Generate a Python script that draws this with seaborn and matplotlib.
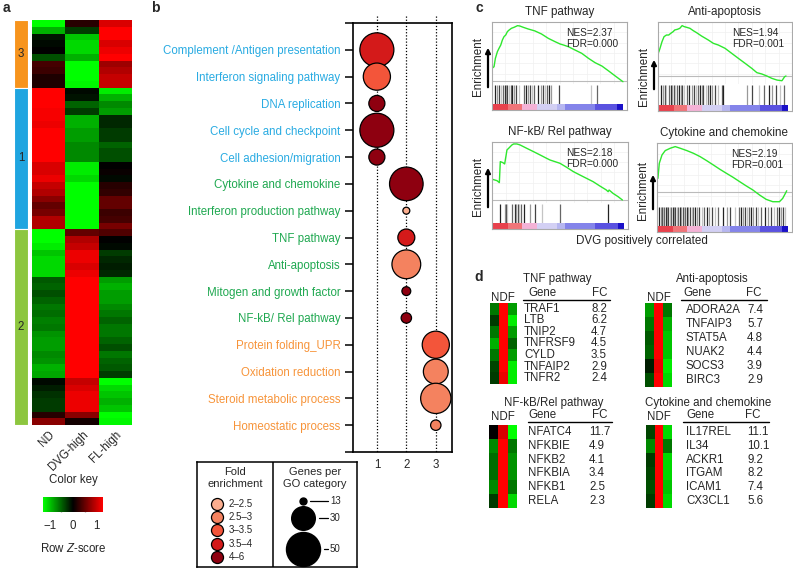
import numpy as np
import pandas as pd
import matplotlib
matplotlib.use("Agg")
import matplotlib.pyplot as plt
import seaborn as sns
from matplotlib.colors import LinearSegmentedColormap, Normalize
from matplotlib.cm import ScalarMappable

sns.set_theme(style="white")
plt.rcParams["font.family"] = ["Liberation Sans", "DejaVu Sans"]
plt.rcParams["mathtext.fontset"] = "custom"
plt.rcParams["mathtext.it"] = "Liberation Sans:italic"
plt.rcParams["mathtext.rm"] = "Liberation Sans"

# ---------------- panel a: clustered heatmap (row z-scores) ----------------
heat_cols = ["ND", "DVG-high", "FL-high"]
cluster_names = ["3", "1", "2"]
cluster_rows = [10, 21, 29]
cluster_colors = ["#f7941d", "#1fa5e0", "#8dc63f"]

nd = [-1.3, -0.9, -0.1, -0.05, 0.0, -0.4, 0.35, 0.3, 0.15, 0.15,
      1.3, 1.3, 1.3, 1.25, 1.25, 1.2, 1.3, 1.3, 1.3, 1.3, 1.3, 1.1, 1.1, 1.2, 1.0, 0.9, 0.7, 0.5, 0.6, 0.9, 0.9,
      -1.3, -1.3, -1.2, -1.0, -1.1, -1.1, -1.1, -0.45, -0.5, -0.4, -0.5, -0.6, -0.55, -0.65, -0.6,
      -0.75, -0.8, -0.8, -0.7, -0.75, -0.9, -0.85, -0.05, -0.15, -0.25, -0.3, -0.3, 0.2, 0.7]
dvg = [0.2, -0.3, -1.0, -1.1, -1.1, -0.9, -1.3, -1.3, -1.3, -1.25,
       -0.05, -0.1, -0.5, -0.3, -0.9, -0.9, -0.8, -0.8, -0.7, -0.7, -0.7, -1.2, -1.2, -1.1, -1.3, -1.3, -1.3, -1.3, -1.3, -1.3, -1.3,
       0.5, 0.9, 1.0, 1.2, 1.2, 1.1, 1.2, 1.3, 1.3, 1.3, 1.3, 1.3, 1.3, 1.3, 1.3,
       1.3, 1.3, 1.3, 1.3, 1.3, 1.3, 1.3, 1.0, 1.1, 1.2, 1.2, 1.2, 0.7, 0.1]
fl = [1.1, 1.3, 1.3, 1.1, 1.2, 1.3, 0.8, 0.9, 1.0, 1.0,
      -1.2, -0.9, -0.7, -0.8, -0.2, -0.2, -0.3, -0.3, -0.5, -0.4, -0.4, 0.0, 0.05, -0.05, 0.2, 0.25, 0.5, 0.5, 0.3, 0.35, 0.6,
      0.4, 0.0, -0.05, -0.3, -0.2, -0.15, -0.2, -0.8, -0.9, -0.8, -0.8, -0.7, -0.6, -0.5, -0.6,
      -0.6, -0.5, -0.4, -0.6, -0.5, -0.45, -0.3, -1.3, -1.1, -1.0, -0.9, -1.0, -1.3, -1.25]

# ---------------- panel b: GO enrichment bubbles ----------------
go_terms = ["Complement /Antigen presentation", "Interferon signaling pathway", "DNA replication",
            "Cell cycle and checkpoint", "Cell adhesion/migration", "Cytokine and chemokine",
            "Interferon production pathway", "TNF pathway", "Anti-apoptosis", "Mitogen and growth factor",
            "NF-kB/ Rel pathway", "Protein folding_UPR", "Oxidation reduction", "Steroid metabolic process",
            "Homeostatic process"]
go_cluster = [1, 1, 1, 1, 1, 2, 2, 2, 2, 2, 2, 3, 3, 3, 3]
fold_bins = ["2\u20132.5", "2.5\u20133", "3\u20133.5", "3.5\u20134", "4\u20136"]
fold_colors = ["#fbae8f", "#f4825f", "#f3553a", "#d41a1a", "#8e0010"]
go_fold = ["3.5\u20134", "3\u20133.5", "4\u20136", "4\u20136", "4\u20136", "4\u20136", "2\u20132.5", "3.5\u20134",
           "2.5\u20133", "4\u20136", "4\u20136", "3\u20133.5", "2.5\u20133", "2.5\u20133", "2.5\u20133"]
go_genes = [51, 36, 20, 51, 20, 49, 13, 21, 39, 14, 15, 36, 32, 42, 15]
term_colors = ["#29abe2"] * 5 + ["#1fa850"] * 6 + ["#f7943a"] * 4
legend_genes = [13, 30, 50]

# ---------------- panel c: GSEA running enrichment ----------------
tnf_x = [0, 0.015, 0.025, 0.040, 0.052, 0.065, 0.077, 0.089, 0.102, 0.114, 0.127, 0.144, 0.164, 0.189, 0.206, 0.231,
         0.268, 0.318, 0.367, 0.417, 0.467, 0.504, 0.529, 0.566, 0.615, 0.665, 0.715, 0.764, 0.814, 0.864, 0.913, 0.970]
tnf_es = [0.149, 0.168, 0.266, 0.345, 0.384, 0.423, 0.482, 0.521, 0.541, 0.580, 0.599, 0.619, 0.631, 0.650, 0.646, 0.631,
          0.611, 0.588, 0.552, 0.501, 0.462, 0.435, 0.423, 0.403, 0.364, 0.325, 0.266, 0.215, 0.176, 0.118, 0.059, -0.008]
tnf_hits = [0.025, 0.037, 0.052, 0.065, 0.082, 0.094, 0.107, 0.114, 0.124, 0.139, 0.149, 0.164, 0.181, 0.199, 0.236,
            0.251, 0.263, 0.280, 0.293, 0.310, 0.342, 0.362, 0.375, 0.392, 0.407, 0.422, 0.437, 0.499, 0.734, 0.779]

anti_x = [0.005, 0.015, 0.03, 0.045, 0.063, 0.08, 0.095, 0.113, 0.125, 0.145, 0.163, 0.18, 0.195, 0.213, 0.238, 0.263,
          0.288, 0.325, 0.375, 0.413, 0.45, 0.5, 0.55, 0.6, 0.65, 0.7, 0.738, 0.775, 0.813, 0.85, 0.888, 0.925, 0.945, 0.955]
anti_es = [0.282, 0.330, 0.409, 0.468, 0.488, 0.488, 0.508, 0.528, 0.548, 0.556, 0.568, 0.600, 0.588, 0.580, 0.568, 0.540,
           0.516, 0.476, 0.429, 0.389, 0.369, 0.330, 0.270, 0.210, 0.151, 0.091, 0.040, 0.024, 0.0, -0.028, -0.048, -0.056,
           -0.008, 0.0]
anti_hits = [0.02, 0.038, 0.05, 0.063, 0.08, 0.095, 0.105, 0.118, 0.13, 0.145, 0.155, 0.168, 0.18, 0.195, 0.213, 0.233,
             0.25, 0.268, 0.28, 0.3, 0.313, 0.325, 0.338, 0.355, 0.37, 0.388, 0.405, 0.425, 0.445, 0.475, 0.488, 0.663,
             0.7, 0.755, 0.788, 0.825, 0.85, 0.88, 0.913, 0.938]

nfkb_x = [0.005, 0.037, 0.054, 0.061, 0.080, 0.093, 0.102, 0.110, 0.122, 0.134, 0.146, 0.159, 0.183, 0.207, 0.256, 0.305,
          0.354, 0.402, 0.427, 0.5, 0.549, 0.598, 0.646, 0.695, 0.744, 0.793, 0.841, 0.854, 0.861, 0.890, 0.927, 0.959]
nfkb_es = [0.221, 0.207, 0.186, 0.411, 0.400, 0.386, 0.464, 0.536, 0.553, 0.571, 0.589, 0.600, 0.600, 0.589, 0.553, 0.518,
           0.482, 0.446, 0.428, 0.393, 0.350, 0.304, 0.268, 0.232, 0.196, 0.150, 0.107, 0.089, 0.107, 0.071, 0.036, 0.0]
nfkb_hits = [0.056, 0.093, 0.102, 0.110, 0.146, 0.166, 0.178, 0.188, 0.202, 0.215, 0.232, 0.280, 0.317, 0.366, 0.5, 0.854]

cyto_x = [0.007, 0.017, 0.037, 0.061, 0.098, 0.135, 0.172, 0.221, 0.270, 0.319, 0.368, 0.417, 0.466, 0.515, 0.564, 0.613,
          0.662, 0.711, 0.760, 0.809, 0.858, 0.907, 0.931, 0.951, 0.961]
cyto_es = [0.178, 0.378, 0.489, 0.547, 0.578, 0.600, 0.578, 0.547, 0.511, 0.467, 0.413, 0.356, 0.298, 0.244, 0.191, 0.133,
           0.076, 0.022, -0.044, -0.102, -0.133, -0.133, -0.089, -0.022, 0.013]
cyto_hits = [0.017, 0.027, 0.037, 0.044, 0.054, 0.064, 0.074, 0.083, 0.093, 0.105, 0.115, 0.125, 0.135, 0.147, 0.159,
             0.172, 0.181, 0.191, 0.201, 0.211, 0.221, 0.233, 0.245, 0.257, 0.270, 0.284, 0.299, 0.314, 0.331, 0.348,
             0.368, 0.387, 0.404, 0.429, 0.453, 0.490, 0.515, 0.544, 0.576, 0.608, 0.625, 0.637, 0.652, 0.667, 0.681,
             0.699, 0.711, 0.730, 0.748, 0.772, 0.797, 0.821, 0.846, 0.870, 0.887, 0.902, 0.919, 0.936, 0.951]

rank_edges = [0, 0.12, 0.22, 0.33, 0.48, 0.54, 0.76, 0.925, 0.97]
rank_colors = ["#e8414c", "#f07478", "#f4b2d6", "#d3d0f4", "#b6b6f0", "#8484ea", "#5a52e0", "#1a10c8"]

# ---------------- panel d: top genes ----------------
tnf_genes = ["TRAF1", "LTB", "TNIP2", "TNFRSF9", "CYLD", "TNFAIP2", "TNFR2"]
tnf_fc = [8.2, 6.2, 4.7, 4.5, 3.5, 2.9, 2.4]
tnf_z = [[-0.6, 1.3, -0.8], [-0.3, 1.3, -1.2], [-0.6, 1.3, -0.8], [-0.9, 1.3, -0.5],
         [-0.6, 1.3, -0.8], [-0.35, 1.3, -1.2], [-0.3, 1.2, -1.2]]
anti_genes = ["ADORA2A", "TNFAIP3", "STAT5A", "NUAK2", "SOCS3", "BIRC3"]
anti_fc = [7.4, 5.7, 4.8, 4.4, 3.9, 2.9]
anti_z = [[-0.8, 1.3, -0.6], [-0.6, 1.3, -0.9], [-0.45, 1.3, -1.0], [-0.5, 1.3, -1.0],
          [-0.15, 1.2, -1.2], [-0.4, 1.3, -1.1]]
nfkb_genes = ["NFATC4", "NFKBIE", "NFKB2", "NFKBIA", "NFKB1", "RELA"]
nfkb_fc = [11.7, 4.9, 4.1, 3.4, 2.5, 2.3]
nfkb_z = [[0.0, 1.1, -1.3], [-0.7, 1.3, -0.6], [-0.55, 1.3, -0.75], [-0.55, 1.3, -0.75],
          [-0.7, 1.3, -0.6], [-0.3, 1.3, -1.1]]
cyto_genes = ["IL17REL", "IL34", "ACKR1", "ITGAM", "ICAM1", "CX3CL1"]
cyto_fc = [11.1, 10.1, 9.2, 8.2, 7.4, 5.6]
cyto_z = [[-0.35, 1.3, -1.1], [-0.7, 1.3, -0.6], [-0.3, 1.3, -1.1], [-0.35, 1.3, -1.1],
          [-0.4, 1.3, -1.0], [-0.3, 1.3, -1.1]]

W, H = 793, 568
fig = plt.figure(figsize=(W / 100, H / 100), dpi=100)


def box(x0, y0, x1, y1):
    return [x0 / W, 1 - y1 / H, (x1 - x0) / W, (y1 - y0) / H]


def put(x, y, s, **kw):
    kw.setdefault("ha", "center")
    kw.setdefault("va", "center")
    kw.setdefault("fontsize", 8.3)
    fig.text(x / W, 1 - y / H, s, **kw)


def arrow(x, y0, y1):
    fig.add_artist(matplotlib.patches.FancyArrowPatch(
        (x / W, 1 - y0 / H), (x / W, 1 - y1 / H), transform=fig.transFigure,
        arrowstyle="-|>", mutation_scale=7, lw=1.6, color="black"))


gkr = LinearSegmentedColormap.from_list("gkr", ["#00ff00", "#000000", "#ff0000"])
FS = 8.3

# panel letters
for lx, ly, lt in [(6, 8, "a"), (155, 8, "b"), (479, 8, "c"), (479, 277, "d")]:
    put(lx, ly, lt, fontsize=10, fontweight="bold")

# ---- a ----
hm = pd.DataFrame({"ND": nd, "DVG-high": dvg, "FL-high": fl})[heat_cols]
ax_a = fig.add_axes(box(32, 20, 132, 425))
sns.heatmap(hm, ax=ax_a, cmap=gkr, vmin=-1.3, vmax=1.3, cbar=False, yticklabels=False)
ax_a.set_xticklabels(heat_cols, rotation=45, ha="right", rotation_mode="anchor", fontsize=FS)
ax_a.tick_params(axis="x", length=0, pad=3)

ax_cl = fig.add_axes(box(14, 20, 28, 425))
bottoms = np.cumsum([0] + cluster_rows[:-1])
ax_cl.bar([0] * 3, cluster_rows, bottom=bottoms, width=1, color=cluster_colors,
          edgecolor="white", linewidth=0.8)
for b, n, name in zip(bottoms, cluster_rows, cluster_names):
    ax_cl.text(0, b + n / 2, name, ha="center", va="center", fontsize=FS)
ax_cl.set_xlim(-0.5, 0.5)
ax_cl.set_ylim(len(nd), 0)
ax_cl.axis("off")

ax_key = fig.add_axes(box(43, 497, 103, 512))
cb = fig.colorbar(ScalarMappable(Normalize(-1.3, 1.3), gkr), cax=ax_key, orientation="horizontal")
cb.set_ticks([-1, 0, 1])
cb.set_ticklabels(["\u22121", "0", "1"])
cb.ax.set_xticks([-0.5, 0.5], minor=True)
cb.outline.set_visible(False)
cb.ax.tick_params(which="both", direction="in", length=3, color="#999999", labelsize=FS, pad=6)
put(73, 480, "Color key")
put(73, 548, "Row $\\it{Z}$-score")

# ---- b ----
df_b = pd.DataFrame({"term": go_terms, "row": np.arange(len(go_terms)), "cluster": go_cluster,
                     "fold": go_fold, "genes": go_genes})
ax_b = fig.add_axes(box(353, 23, 452, 452))
ax_b.vlines([1, 2, 3], -1.25, 15, colors="black", linestyles=(0, (1, 1.5)), linewidth=0.9,
            clip_on=False, zorder=1)
sns.scatterplot(data=df_b, x="cluster", y="row", hue="fold", hue_order=fold_bins,
                palette=dict(zip(fold_bins, fold_colors)), size="genes", sizes=(25, 600),
                size_norm=(13, 50), edgecolor="black", linewidth=0.9, legend=False, ax=ax_b, zorder=3)
ax_b.set_xlim(0.19, 3.55)
ax_b.set_ylim(15, -1)
ax_b.set_yticks(range(-1, 16))
ax_b.set_yticklabels([""] + go_terms + [""], fontsize=FS)
for lab, col in zip(ax_b.get_yticklabels()[1:-1], term_colors):
    lab.set_color(col)
ax_b.set_xticks([1, 2, 3])
ax_b.set_xticklabels(["1", "2", "3"], fontsize=FS)
ax_b.tick_params(axis="y", length=6, width=1.1, color="black", pad=3, left=True)
ax_b.tick_params(axis="x", length=0, pad=5)
ax_b.set_xlabel("")
ax_b.set_ylabel("")
for sp in ax_b.spines.values():
    sp.set_visible(True)
    sp.set_color("black")
    sp.set_linewidth(1.2)

# legend box for b
ax_lg = fig.add_axes(box(197, 462, 357, 567))
ax_lg.set_xlim(197, 357)
ax_lg.set_ylim(567, 462)
ax_lg.set_xticks([])
ax_lg.set_yticks([])
for sp in ax_lg.spines.values():
    sp.set_visible(True)
    sp.set_color("black")
    sp.set_linewidth(1.1)
ax_lg.axvline(273, color="black", lw=1.1)
ax_lg.text(235, 478, "Fold\nenrichment", ha="center", va="center", fontsize=8, linespacing=1.25)
ax_lg.text(315, 478, "Genes per\nGO category", ha="center", va="center", fontsize=8, linespacing=1.25)
for i, (lab, col) in enumerate(zip(fold_bins, fold_colors)):
    yy = 504 + i * 13.2
    ax_lg.scatter(217, yy, s=75, color=col, edgecolor="black", linewidth=0.9, clip_on=False)
    ax_lg.text(229, yy, lab, ha="left", va="center", fontsize=7)
for g, yy in zip(legend_genes, [501, 518, 549]):
    s = 25 + (g - 13) / 37 * 575
    r = np.sqrt(s) * 100 / 72 / 2
    ax_lg.scatter(303, yy, s=s, color="black", clip_on=False)
    ax_lg.plot([303 + r + 4, 328], [yy, yy], color="black", lw=0.9)
    ax_lg.text(330, yy, str(g), ha="left", va="center", fontsize=7)

# ---- c ----
shades = ["#222222", "#999999", "#444444", "#c4c4c4", "#666666"]
gsea_panels = [
    ("TNF pathway", tnf_x, tnf_es, tnf_hits, "2.37", "0.000", (492, 627, 22, 84, 104, 110), (-0.035, 0.693), (67, 90, 45)),
    ("Anti-apoptosis", anti_x, anti_es, anti_hits, "1.94", "0.001", (658, 792, 22, 84, 105, 111), (-0.095, 0.643), (77, 92, 57)),
    ("NF-kB/ Rel pathway", nfkb_x, nfkb_es, nfkb_hits, "2.18", "0.000", (492, 628, 142, 203, 223, 229), (-0.032, 0.621), (187, 210, 165)),
    ("Cytokine and chemokine", cyto_x, cyto_es, cyto_hits, "2.19", "0.001", (657, 792, 143, 206, 226, 232), (-0.19, 0.648), (190, 212, 172)),
]
for title, xs, es, hits, nes, fdr, (x0, x1, top, cb_, hb, bot), ylim, (ly, ay0, ay1) in gsea_panels:
    frame = fig.add_axes(box(x0, top, x1, bot))
    frame.set_xticks([])
    frame.set_yticks([])
    frame.patch.set_alpha(0)
    for sp in frame.spines.values():
        sp.set_visible(True)
        sp.set_color("#aaaaaa")
        sp.set_linewidth(0.8)
    frame.set_zorder(5)

    ax = fig.add_axes(box(x0, top, x1, cb_))
    ax.set_xlim(0, 1)
    ax.set_ylim(*ylim)
    ax.set_xticks(np.linspace(0, 1, 11))
    ax.set_yticks(np.linspace(ylim[0], ylim[1], 7))
    ax.grid(True, color="#f0f0f0", lw=0.5)
    ax.tick_params(length=0, labelbottom=False, labelleft=False)
    for sp in ax.spines.values():
        sp.set_visible(False)
    ax.axhline(0, color="#bbbbbb", lw=0.8)
    sns.lineplot(x=xs, y=es, ax=ax, color="#2ee82e", lw=1.0, sort=False)

    axh = fig.add_axes(box(x0, cb_ + 1, x1, hb))
    axh.set_xlim(0, 1)
    axh.set_ylim(0, 1)
    axh.axis("off")
    axh.vlines(hits, 0, 1, colors=[shades[i % len(shades)] for i in range(len(hits))], lw=0.9)

    axr = fig.add_axes(box(x0, hb, x1, bot))
    axr.set_xlim(0, 1)
    axr.set_ylim(0, 1)
    axr.axis("off")
    widths = np.diff(rank_edges + [rank_edges[-1]])[:-1]
    axr.bar(rank_edges[:-1], 1, width=np.diff(rank_edges), align="edge", color=rank_colors, linewidth=0)

    put((x0 + x1) / 2, top - 10, title, fontsize=8.4)
    put(x0 + 74, top + 11, "NES=" + nes, ha="left", fontsize=7.3)
    put(x0 + 74, top + 22, "FDR=" + fdr, ha="left", fontsize=7.3)
    put(x0 - 14, ly, "Enrichment", rotation=90, fontsize=8.4)
    arrow(x0 - 4, ay0, ay1)

put(642, 241, "DVG positively correlated", fontsize=8.4)

# ---- d ----
d_tables = [
    ("TNF pathway", tnf_genes, tnf_fc, tnf_z, (490, 517, 303, 384), (557, 279), (503, 298), (542, 600, 293),
     (523, 610, 300), (524, 591)),
    ("Anti-apoptosis", anti_genes, anti_fc, anti_z, (645, 672, 303, 387), (712, 279), (659, 298), (697, 754, 293),
     (681, 767, 300), (686, 747)),
    ("NF-kB/Rel pathway", nfkb_genes, nfkb_fc, nfkb_z, (489, 517, 425, 508), (554, 403), (503, 417), (542, 600, 415),
     (528, 612, 422), (528, 589)),
    ("Cytokine and chemokine", cyto_genes, cyto_fc, cyto_z, (646, 672, 425, 508), (708, 403), (659, 417), (700, 753, 415),
     (683, 769, 422), (686, 747)),
]
for title, genes, fcs, z, (hx0, hx1, hy0, hy1), (tx, ty), (nx, ny), (gx, fx, hy), (lx0, lx1, ly_), (gnx, fcx) in d_tables:
    axd = fig.add_axes(box(hx0, hy0, hx1, hy1))
    sns.heatmap(np.array(z), ax=axd, cmap=gkr, vmin=-1.3, vmax=1.3, cbar=False,
                xticklabels=False, yticklabels=False)
    put(tx, ty, title)
    put(nx, ny, "NDF")
    put(gx, hy, "Gene")
    put(fx, hy, "FC")
    fig.add_artist(plt.Line2D([lx0 / W, lx1 / W], [1 - ly_ / H, 1 - ly_ / H], color="black", lw=1.0))
    step = (hy1 - hy0) / len(genes)
    for i, (g, f) in enumerate(zip(genes, fcs)):
        yy = hy0 + (i + 0.5) * step
        put(gnx, yy, g, ha="left")
        put(fcx, yy, f"{f:.1f}", ha="left")

fig.savefig("out.png", dpi=100)
